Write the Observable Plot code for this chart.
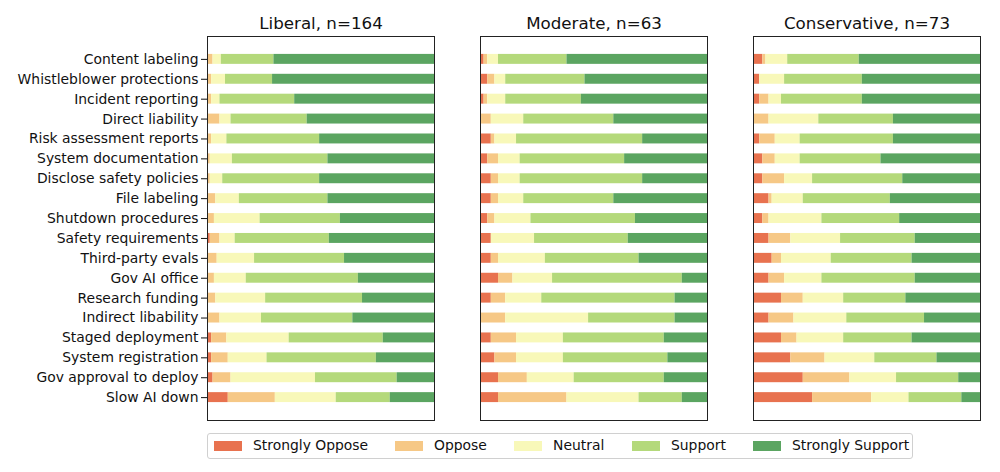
<!DOCTYPE html>
<html>
<head>
<meta charset="utf-8">
<script src="https://cdn.jsdelivr.net/npm/d3@7"></script>
<script src="https://cdn.jsdelivr.net/npm/@observablehq/plot@0.6"></script>
<style>
  html, body { margin: 0; padding: 0; background: #fff; }
  body { font-family: "DejaVu Sans", sans-serif; width: 1000px; height: 472px; overflow: hidden; }
  #legend { position: relative; margin-left: 207px; margin-top: 7px; width: 704px; height: 24px;
            border: 1px solid #d0d0d0; border-radius: 3px; font-size: 13.9px; color: #111; }
  .sw { position: absolute; top: 7px; width: 28px; height: 10px; }
  .lt { position: absolute; top: 3px; line-height: 17px; white-space: nowrap; }
</style>
</head>
<body>
<div id="chart"></div>
<div id="legend"></div>
<script>
const items = ["Content labeling","Whistleblower protections","Incident reporting","Direct liability",
  "Risk assessment reports","System documentation","Disclose safety policies","File labeling",
  "Shutdown procedures","Safety requirements","Third-party evals","Gov AI office","Research funding",
  "Indirect libability","Staged deployment","System registration","Gov approval to deploy","Slow AI down"];

const responses = ["Strongly Oppose","Oppose","Neutral","Support","Strongly Support"];
const colors = ["#e8724f","#f6c886","#f8f8b9","#b4d97b","#5ba561"];

const groups = ["Liberal","Moderate","Conservative"];
const groupN = [164, 63, 73];

// counts per item: [Strongly Oppose, Oppose, Neutral, Support, Strongly Support]
const liberal = [
  [0,4,6,38,116],[0,3,10,34,117],[0,3,6,54,101],[0,9,8,55,92],[0,3,11,67,83],[0,2,16,69,77],
  [0,2,9,70,83],[0,6,17,64,77],[0,5,33,58,68],[2,7,11,68,76],[0,7,27,65,65],[0,5,23,81,55],
  [0,6,36,70,52],[0,9,30,66,59],[3,11,45,68,37],[3,12,28,79,42],[4,13,61,59,27],[15,34,44,39,32]
];
const moderate = [
  [1,1,3,19,39],[2,2,3,22,34],[1,1,5,21,35],[0,3,9,25,26],[3,1,6,35,18],[2,3,6,29,23],
  [3,2,6,34,18],[3,2,7,25,26],[2,2,10,29,20],[3,0,12,26,22],[3,2,13,26,19],[5,4,11,36,7],
  [3,4,10,37,9],[0,7,23,24,9],[3,7,13,28,12],[4,6,13,29,11],[5,8,13,25,12],[5,19,20,12,7]
];
const conservative = [
  [3,1,7,23,39],[2,0,8,25,38],[2,3,4,26,38],[0,5,16,24,28],[2,5,8,30,28],[3,4,8,26,32],
  [3,7,9,29,25],[5,1,10,28,29],[3,2,17,25,26],[5,7,16,24,21],[6,3,16,26,22],[5,5,12,30,21],
  [9,7,13,20,24],[5,8,17,25,18],[9,5,15,22,22],[12,11,16,20,14],[16,15,15,20,7],[19,19,12,17,6]
];

const groupCounts = [liberal, moderate, conservative];
const rows = [];
groups.forEach((g, gi) => {
  groupCounts[gi].forEach((counts, ii) => {
    const tot = d3.sum(counts);
    counts.forEach((c, ri) => {
      rows.push({group: g, item: items[ii], response: responses[ri], pct: c / tot * 100});
    });
  });
});

const titles = new Map(groups.map((g, i) => [g, `${g}, n=${groupN[i]}`]));

const chart = Plot.plot({
  width: 1000,
  height: 426,
  marginLeft: 207,
  marginRight: 20,
  marginTop: 36,
  marginBottom: 6,
  style: {fontFamily: "DejaVu Sans, sans-serif", color: "#111", background: "#fff"},
  fx: {domain: groups, paddingInner: 46/273, paddingOuter: 0, round: false, axis: null},
  x: {domain: [0, 100], axis: null},
  y: {domain: items, paddingInner: 0.5, paddingOuter: 0.9, round: false, axis: null},
  color: {domain: responses, range: colors},
  marks: [
    Plot.barX(rows, Plot.stackX({x: "pct", y: "item", fx: "group", fill: "response"})),
    Plot.frame({stroke: "#222", strokeWidth: 1}),
    Plot.axisFx({anchor: "top", tickSize: 0, tickPadding: 8, fontSize: 16.7, label: null,
                 tickFormat: d => titles.get(d)}),
    Plot.axisY({anchor: "left", tickSize: 6, tickPadding: 3, fontSize: 13.9, label: null,
                stroke: "#111", strokeWidth: 1, strokeOpacity: 1})
  ]
});
document.getElementById("chart").appendChild(chart);

const leg = document.getElementById("legend");
const swLeft = [6, 187, 306, 424, 545];
responses.forEach((r, i) => {
  const s = document.createElement("div");
  s.className = "sw"; s.style.left = swLeft[i] + "px"; s.style.background = colors[i];
  leg.appendChild(s);
  const t = document.createElement("div");
  t.className = "lt"; t.style.left = (swLeft[i] + 39) + "px"; t.textContent = r;
  leg.appendChild(t);
});
</script>
</body>
</html>
